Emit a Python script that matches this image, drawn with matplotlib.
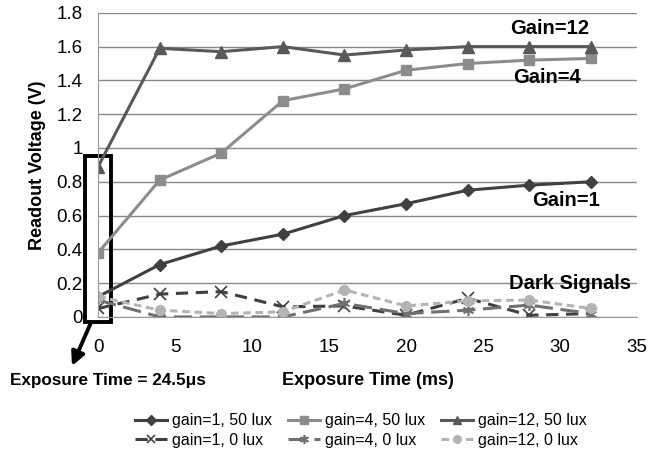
import matplotlib
matplotlib.use("Agg")
import matplotlib.pyplot as plt
from matplotlib.patches import Rectangle
from matplotlib.ticker import FuncFormatter

plt.rcParams['font.family'] = ['Liberation Sans', 'DejaVu Sans']

# ---------- Data ----------
exposure_ms = [0, 4, 8, 12, 16, 20, 24, 28, 32]

gain1_50lux = [0.12, 0.31, 0.42, 0.49, 0.60, 0.67, 0.75, 0.78, 0.80]
gain4_50lux = [0.38, 0.81, 0.97, 1.28, 1.35, 1.46, 1.50, 1.52, 1.53]
gain12_50lux = [0.89, 1.59, 1.57, 1.60, 1.55, 1.58, 1.60, 1.60, 1.60]

gain1_0lux = [0.05, 0.135, 0.15, 0.06, 0.065, 0.01, 0.11, 0.01, 0.02]
gain4_0lux = [0.10, 0.00, 0.00, 0.00, 0.08, 0.02, 0.04, 0.07, 0.02]
gain12_0lux = [0.12, 0.04, 0.02, 0.03, 0.16, 0.065, 0.095, 0.10, 0.05]

labels = ["gain=1, 50 lux", "gain=4, 50 lux", "gain=12, 50 lux",
          "gain=1, 0 lux", "gain=4, 0 lux", "gain=12, 0 lux"]

# ---------- Figure ----------
fig = plt.figure(figsize=(6.5, 4.58), dpi=100)
ax = fig.add_axes([0.151, 0.308, 0.829, 0.664])

h1, = ax.plot(exposure_ms, gain1_50lux, color="#404040", lw=2.2, marker="D", ms=6, label=labels[0])
h2, = ax.plot(exposure_ms, gain4_50lux, color="#8c8c8c", lw=2.2, marker="s", ms=7, label=labels[1])
h3, = ax.plot(exposure_ms, gain12_50lux, color="#595959", lw=2.2, marker="^", ms=8, label=labels[2])

h4, = ax.plot(exposure_ms, gain1_0lux, color="#404040", lw=2.2, ls=(0, (4, 2.5)), marker="x", ms=8,
              mew=1.2, label=labels[3])
h5, = ax.plot(exposure_ms, gain4_0lux, color="#707070", lw=2.2, ls=(0, (6, 2.5)), marker=(6, 2, 0), ms=8,
              mew=1.2, label=labels[4])
h6, = ax.plot(exposure_ms, gain12_0lux, color="#b4b4b4", lw=2.2, ls=(0, (2.5, 1.5)), marker="o", ms=7,
              label=labels[5])

ax.set_xlim(0, 35)
ax.set_ylim(0, 1.8)
ax.set_xticks(range(0, 36, 5))
ax.set_yticks([0, 0.2, 0.4, 0.6, 0.8, 1.0, 1.2, 1.4, 1.6, 1.8])
ax.yaxis.set_major_formatter(FuncFormatter(lambda v, p: "%g" % round(v, 1)))
ax.tick_params(axis="y", labelsize=13.5, length=0, pad=11)
ax.tick_params(axis="x", labelsize=13.5, length=0, pad=16)
ax.grid(axis="y", color="#888888", lw=1)
ax.set_axisbelow(True)
for s in ["top", "right"]:
    ax.spines[s].set_visible(False)
for s in ["left", "bottom"]:
    ax.spines[s].set_color("#999999")

ax.set_ylabel("Readout Voltage (V)", fontsize=13, fontweight="bold", labelpad=8)
fig.text(0.566, 0.17, "Exposure Time (ms)", fontsize=13, fontweight="bold", ha="center", va="center")

# annotations
ax.text(29.35, 1.71, "Gain=12", fontsize=14.5, fontweight="bold", ha="center", va="center")
ax.text(29.15, 1.42, "Gain=4", fontsize=14.5, fontweight="bold", ha="center", va="center")
ax.text(30.4, 0.69, "Gain=1", fontsize=14.5, fontweight="bold", ha="center", va="center")
ax.text(34.6, 0.2, "Dark Signals", fontsize=14.5, fontweight="bold", ha="right", va="center")

ax.add_patch(Rectangle((-0.85, -0.03), 1.7, 0.98, fill=False, ec="black", lw=2.8, clip_on=False))
ax.annotate("", xy=(-1.7, -0.29), xytext=(-0.45, -0.03),
            arrowprops=dict(arrowstyle="-|>", color="black", lw=2.8, mutation_scale=20,
                            shrinkA=0, shrinkB=0),
            annotation_clip=False)
fig.text(0.015, 0.17, "Exposure Time = 24.5\u03bcs", fontsize=12.3, fontweight="bold", ha="left", va="center")

# legend: row-wise order with column-major filling
order = [h1, h4, h2, h5, h3, h6]
fig.legend(handles=order, labels=[h.get_label() for h in order], loc="center",
           bbox_to_anchor=(0.555, 0.06), ncol=3, frameon=False, fontsize=11.5,
           handlelength=2.0, handletextpad=0.3, columnspacing=1.0, labelspacing=0.3,
           markerscale=0.8)

fig.savefig("out.png", dpi=100)
